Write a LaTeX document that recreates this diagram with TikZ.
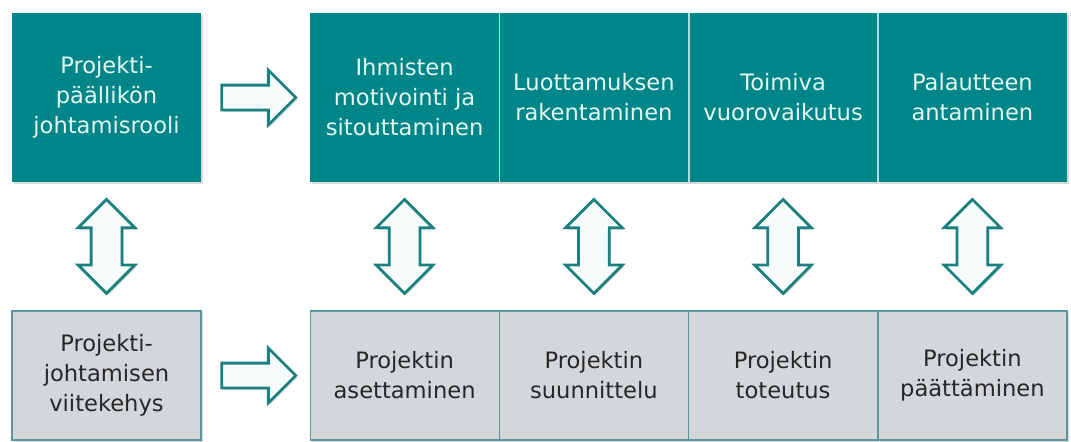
\documentclass[tikz,border=0pt]{standalone}
\usepackage{fontspec}
\setmainfont{DejaVu Sans}
\usepackage{xcolor}
\usetikzlibrary{calc,shapes.arrows,shadows}
\definecolor{tealbox}{RGB}{0,134,136}
\definecolor{tealtext}{RGB}{228,246,242}
\definecolor{tealline}{RGB}{170,222,222}
\definecolor{greybox}{RGB}{212,215,218}
\definecolor{greyline}{RGB}{92,150,156}
\definecolor{greytext}{RGB}{38,38,38}
\definecolor{arrowline}{RGB}{28,128,128}
\definecolor{arrowfill}{RGB}{246,252,252}
\tikzset{
  softshadow/.style={drop shadow={shadow xshift=0.8pt,shadow yshift=-1pt,opacity=0.25,fill=black!60}},
  rolebox/.style={fill=tealbox,text=tealtext,minimum width=94.5pt,minimum height=84.5pt,inner sep=0pt,align=center,font=\fontsize{11.3}{15}\selectfont,softshadow},
  phasebox/.style={fill=greybox,draw=greyline,line width=0.6pt,text=greytext,minimum width=94.5pt,minimum height=64.5pt,inner sep=0pt,align=center,font=\fontsize{11.3}{15}\selectfont,softshadow},
  divider/.style={draw=tealline,line width=0.7pt},
  rightarrow/.style={single arrow,draw=arrowline,fill=arrowfill,line width=1.4pt,minimum height=37pt,inner sep=5.5pt,single arrow head extend=7.5pt,xshift=-1.5pt,softshadow},
  updown/.style={double arrow,shape border rotate=90,draw=arrowline,fill=arrowfill,line width=1.4pt,minimum height=47pt,inner sep=7pt,double arrow head extend=6.5pt,softshadow}
}
\begin{document}
\begin{tikzpicture}[x=0.5pt,y=-0.5pt]
  \useasboundingbox (0,0) rectangle (1071,441);
  % ylärivi: johtamisrooli
  \node[rolebox] (rooli) at (106.5,97.5) {Projekti-\\päällikön\\johtamisrooli};
  \node[rolebox] (motiv) at (404.6,97.5) {Ihmisten\\motivointi ja\\sitouttaminen};
  \node[rolebox] (luott) at (593.9,97.5) {Luottamuksen\\rakentaminen};
  \node[rolebox] (vuoro) at (783.1,97.5) {Toimiva\\vuorovaikutus};
  \node[rolebox] (palaute) at (972.4,97.5) {Palautteen\\antaminen};
  \draw[divider] (motiv.north east) -- (motiv.south east);
  \draw[divider] (luott.north east) -- (luott.south east);
  \draw[divider] (vuoro.north east) -- (vuoro.south east);
  % alarivi: projektin vaiheet
  \node[phasebox] (kehys) at (106.5,375.5) {Projekti-\\johtamisen\\viitekehys};
  \node[phasebox] (aset) at (404.6,375.5) {Projektin\\asettaminen};
  \node[phasebox] (suunn) at (593.9,375.5) {Projektin\\suunnittelu};
  \node[phasebox] (toteut) at (783.1,375.5) {Projektin\\toteutus};
  \node[phasebox] (paatt) at (972.4,375.5) {Projektin\\päättäminen};
  % nuolet
  \node[rightarrow] (oikea1) at ($(rooli.east)!0.5!(motiv.west)$) {};
  \node[rightarrow] (oikea2) at ($(kehys.east)!0.5!(aset.west)$) {};
  \node[updown] (yhteys0) at ($(rooli.south)!0.5!(kehys.north)$) {};
  \node[updown] (yhteys1) at ($(motiv.south)!0.5!(aset.north)$) {};
  \node[updown] (yhteys2) at ($(luott.south)!0.5!(suunn.north)$) {};
  \node[updown] (yhteys3) at ($(vuoro.south)!0.5!(toteut.north)$) {};
  \node[updown] (yhteys4) at ($(palaute.south)!0.5!(paatt.north)$) {};
\end{tikzpicture}
\end{document}
